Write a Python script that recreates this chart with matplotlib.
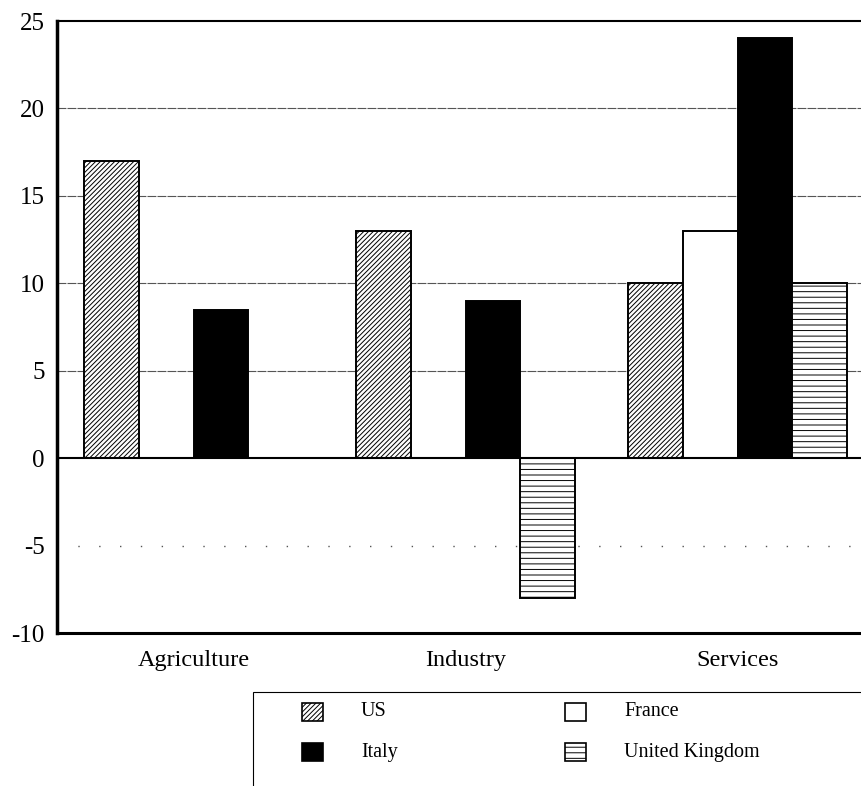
import numpy as np
import matplotlib.pyplot as plt
from matplotlib.patches import Rectangle

sectors = ["Agriculture", "Industry", "Services"]
countries = ["US", "France", "Italy", "United Kingdom"]
us = [17, 13, 10]
france = [0, 0, 13]
italy = [8.5, 9, 24]
uk = [0, -8, 10]

plt.rcParams['font.family'] = ['Liberation Serif', 'DejaVu Serif']
plt.rcParams['hatch.linewidth'] = 0.7

fig = plt.figure(figsize=(8.61, 7.86), dpi=100)
ax = fig.add_axes([57 / 861, 1 - 633 / 786, 1 - 57 / 861, (633 - 21) / 786])

x = np.arange(len(sectors))
w = 0.202
styles = [
    dict(facecolor="white", hatch="///////"),
    dict(facecolor="white"),
    dict(facecolor="black"),
    dict(facecolor="white", hatch="---"),
]
for i, (vals, st) in enumerate(zip([us, france, italy, uk], styles)):
    pos = x + (i - 1.5) * w
    keep = [j for j, v in enumerate(vals) if v != 0]
    ax.bar(pos[keep], np.array(vals)[keep], width=w, edgecolor="black",
           linewidth=1.4, zorder=3, **st)

ax.set_xlim(-0.502, 2.454)
ax.set_ylim(-10, 25)
ax.set_yticks(range(-10, 30, 5))
ax.set_yticklabels([str(v) for v in range(-10, 30, 5)], fontsize=18)
ax.set_xticks(x)
ax.set_xticklabels(sectors, fontsize=17.5)
ax.tick_params(axis="both", length=0)
ax.tick_params(axis="y", pad=9)
ax.tick_params(axis="x", pad=12)

for v in [5, 10, 15, 20]:
    ax.axhline(v, color="#555555", linewidth=0.8, linestyle=(0, (8, 1)), zorder=1)
ax.axhline(-5, color="#555555", linewidth=1.0, linestyle=(0, (1, 14)), zorder=1)
ax.axhline(0, color="black", linewidth=1.5, zorder=4)

ax.spines["right"].set_visible(False)
ax.spines["left"].set_linewidth(2.5)
ax.spines["bottom"].set_linewidth(2.2)
ax.spines["top"].set_linewidth(1.5)

# legend box: only top and left edges show inside the figure
W, H = 861, 786
fig.patches.append(Rectangle((253 / W, -0.1), 1.0, 0.1 + (H - 692) / H,
                             transform=fig.transFigure, fill=False,
                             edgecolor="black", linewidth=0.8))
# legend entries laid out row-wise: US, France / Italy, United Kingdom
col_x = [302, 565]
row_y = [712, 752]
for k, (name, st) in enumerate(zip(countries, styles)):
    cx = col_x[k % 2]
    cy = row_y[k // 2]
    fig.patches.append(Rectangle((cx / W, 1 - (cy + 9) / H), 21 / W, 18 / H,
                                 transform=fig.transFigure, edgecolor="black",
                                 linewidth=1.2, **st))
    fig.text((cx + 59) / W, 1 - cy / H, name, fontsize=14.5, va="center", ha="left")

fig.savefig("out.png", dpi=100)
